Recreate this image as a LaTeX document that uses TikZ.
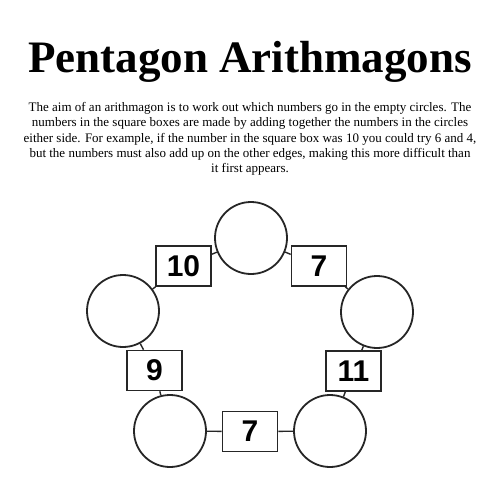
\documentclass[tikz,border=0pt]{standalone}
\usepackage{fontspec}
\setmainfont{Liberation Serif}
\newfontfamily\numfont{Liberation Sans}
\begin{document}
\begin{tikzpicture}[x=1pt,y=-1pt,
  ring/.style={circle,draw=black!85,line width=1.8pt,fill=white,minimum size=72pt,inner sep=0pt},
  numbox/.style={rectangle,draw=black!85,line width=1.6pt,fill=white,minimum width=55pt,minimum height=40pt,inner sep=0pt,font=\numfont\bfseries\fontsize{30}{30}\selectfont},
  link/.style={draw=black!85,line width=1.4pt},
  para/.style={anchor=base,inner sep=0pt,font=\fontsize{13}{15}\selectfont}]
\fill[white] (0,0) rectangle (500,500);
\useasboundingbox (0,0) rectangle (500,500);
\node[anchor=base,inner sep=0pt,font=\bfseries\fontsize{45}{50}\selectfont] (title) at (250,73) {Pentagon Arithmagons};
\node[para] (l1) at (250,112) {The aim of an arithmagon is to work out which numbers go in the empty circles. The};
\node[para] (l2) at (250,127) {numbers in the square boxes are made by adding together the numbers in the circles};
\node[para] (l3) at (250,142) {either side. For example, if the number in the square box was 10 you could try 6 and 4,};
\node[para] (l4) at (250,157) {but the numbers must also add up on the other edges, making this more difficult than};
\node[para] (l5) at (250,172) {it first appears.};
% circles
\node[ring] (ct) at (251,238) {};
\node[ring] (cl) at (123,311) {};
\node[ring] (cr) at (377,312) {};
\node[ring] (cbl) at (170,431) {};
\node[ring] (cbr) at (330,431) {};
% boxes
\node[numbox] (b10) at (183.5,266) {10};
\node[numbox] (b7t) at (319,266) {7};
\node[numbox] (b9) at (154.5,370.5) {9};
\node[numbox] (b11) at (353.5,371) {11};
\node[numbox] (b7b) at (250,431.5) {7};
% connectors
\draw[link] (ct) -- (b10);
\draw[link] (b10) -- (cl);
\draw[link] (ct) -- (b7t);
\draw[link] (b7t) -- (cr);
\draw[link] (cl) -- (b9);
\draw[link] (b9) -- (cbl);
\draw[link] (cr) -- (b11);
\draw[link] (b11) -- (cbr);
\draw[link] (cbl) -- (b7b);
\draw[link] (b7b) -- (cbr);
\end{tikzpicture}
\end{document}
